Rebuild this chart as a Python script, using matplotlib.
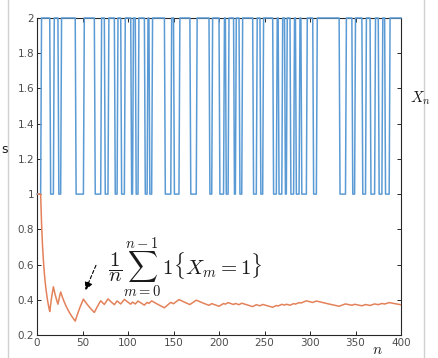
import numpy as np
import matplotlib
matplotlib.use("Agg")
import matplotlib.pyplot as plt
from matplotlib.lines import Line2D

# Intervals [start, end) of n where X_n = 1 (otherwise X_n = 2)
ones_starts = [0, 15, 24, 43, 64, 75, 86, 93, 104, 109, 119, 124, 141, 151, 169,
               190, 201, 208, 217, 223, 238, 246, 260, 266, 273, 279, 285, 291,
               304, 333, 347, 358, 367, 376, 383]
ones_ends = [5, 19, 27, 52, 71, 79, 89, 97, 106, 112, 122, 127, 148, 157, 176,
             193, 206, 211, 219, 226, 242, 249, 264, 270, 275, 283, 289, 297,
             308, 340, 350, 362, 372, 380, 388]
n_steps = 401
x_ticks = [0, 50, 100, 150, 200, 250, 300, 350, 400]
y_ticks = [0.2, 0.4, 0.6, 0.8, 1.0, 1.2, 1.4, 1.6, 1.8, 2.0]
y_ticklabels = ["0.2", "0.4", "0.6", "0.8", "1", "1.2", "1.4", "1.6", "1.8", "2"]

n = np.arange(n_steps)
X = np.full(n_steps, 2.0)
for s, e in zip(ones_starts, ones_ends):
    X[s:e] = 1.0
running = np.cumsum(X == 1) / (n + 1)

plt.rcParams['mathtext.fontset'] = 'cm'
plt.rcParams['font.family'] = ['DejaVu Sans']

fig = plt.figure(figsize=(4.38, 3.58), dpi=100)
ax = fig.add_axes([37/438, 1-335/358, 364/438, 317/358])

ax.plot(n, X, color='#5b9bd5', lw=1.1, clip_on=False, zorder=3)
ax.plot(n, running, color='#e3825a', lw=1.1, zorder=3)

ax.set_xlim(0, 400)
ax.set_ylim(0.2, 2.0)
ax.set_xticks(x_ticks)
ax.set_xticklabels([str(t) for t in x_ticks])
ax.set_yticks(y_ticks)
ax.set_yticklabels(y_ticklabels)
ax.tick_params(direction='in', length=3, width=0.7, labelsize=7.5,
               labelcolor='#4d4d4d', color='#262626', top=True, right=True, pad=2)
for sp in ax.spines.values():
    sp.set_color('#262626')
    sp.set_linewidth(0.8)

ax.annotate('', xy=(52, 0.44), xytext=(66, 0.61),
            arrowprops=dict(arrowstyle='-|>', linestyle=(0, (3, 2)), color='black',
                        lw=0.8, mutation_scale=12))
ax.text(78, 0.585, r'$\dfrac{1}{n}\sum_{m=0}^{n-1}\, 1\{X_m=1\}$', fontsize=15,
        va='center', ha='left', color='#1a1a1a')

fig.text(5/438, 1-150/358, 's', fontsize=9, ha='center', va='center', color='#1a1a1a')
fig.text(420/438, 1-98/358, r'$X_n$', fontsize=11, ha='center', va='center', color='#1a1a1a')
fig.text(377/438, 1-350/358, r'$n$', fontsize=11, ha='center', va='center', color='#1a1a1a')

fig.add_artist(Line2D([8/438, 8/438], [0, 1], transform=fig.transFigure, color='#d0d0d0', lw=1))
fig.add_artist(Line2D([424/438, 424/438], [0, 1], transform=fig.transFigure, color='#d0d0d0', lw=1))

fig.savefig('out.png', dpi=100)
